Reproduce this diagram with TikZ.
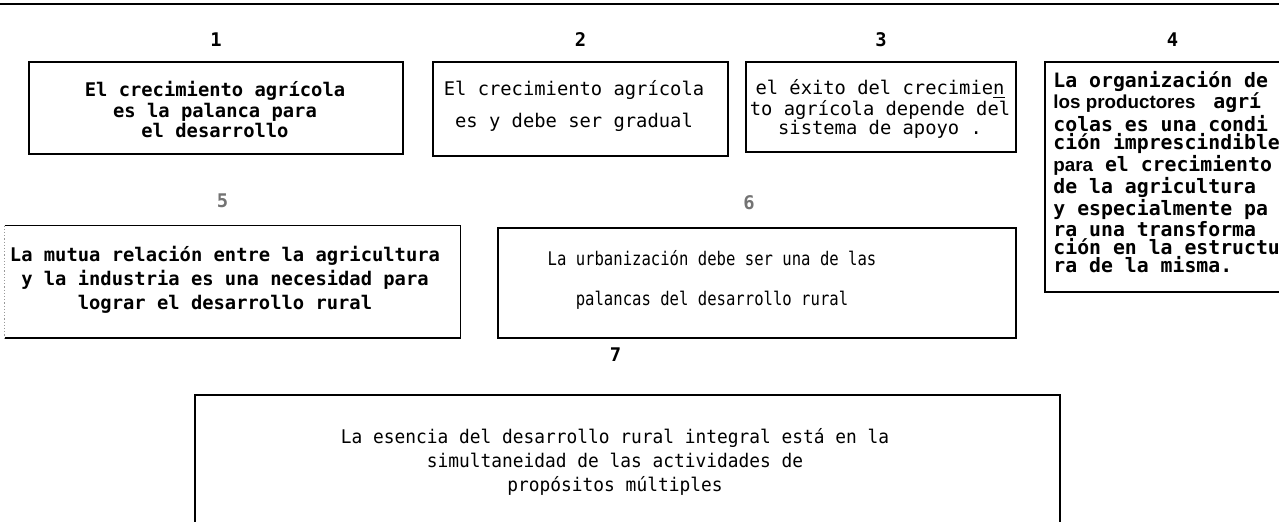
\documentclass[tikz,border=0pt]{standalone}
\usepackage{fontspec}
\usetikzlibrary{positioning}
\newfontfamily\printfont{DejaVu Sans Mono}
\newfontfamily\narrowprint[FakeStretch=0.83]{DejaVu Sans Mono}
\newfontfamily\slimprint[FakeStretch=0.95]{DejaVu Sans Mono}
\newfontfamily\propfont{Liberation Sans}
\tikzset{%
	frame/.style={
		draw,
		line width=0.9pt,
		inner sep=0pt
	},
	box text/.style={
		align=center,
		inner sep=0pt,
		font=\printfont\fontsize{9.4}{#1}\selectfont
	},
	heavy text/.style={
		align=center,
		inner sep=0pt,
		font=\printfont\bfseries\fontsize{9.4}{#1}\selectfont
	},
	narrow text/.style={
		align=center,
		inner sep=0pt,
		font=\narrowprint\fontsize{9.4}{#1}\selectfont
	},
	slim text/.style={
		align=center,
		inner sep=0pt,
		font=\slimprint\fontsize{9.4}{#1}\selectfont
	},
	box number/.style={
		inner sep=0pt,
		font=\printfont\bfseries\fontsize{9.4}{10}\selectfont
	},
}

\begin{document}
\begin{tikzpicture}[x=0.5pt, y=-0.5pt]
			\useasboundingbox (0,0) rectangle (1279,522);
			% rule across the top of the page
			\draw[line width=1.2pt] (0,4) -- (1279,4);
			
			% first row of boxes
			\node[frame, minimum width=187pt, minimum height=46pt] (b1) at (216,108) {};
			\node[frame, minimum width=147.5pt, minimum height=47pt] (b2) at (580.5,109) {};
			\node[frame, minimum width=135pt, minimum height=45pt] (b3) at (881,107) {};
			\node[frame, minimum width=127.5pt, minimum height=115pt] (b4) at (1172.5,177) {};
			
			% second row, box 5 has a faint left side
			\node[minimum width=227.5pt, minimum height=56pt, inner sep=0pt] (b5) at (232.5,282) {};
			\draw[line width=0.9pt] (b5.north west) -- (b5.north east) -- (b5.south east) -- (b5.south west);
			\draw[line width=0.6pt, black!40, densely dotted] (b5.north west) -- (b5.south west);
			\node[frame, minimum width=259pt, minimum height=55pt] (b6) at (757,283) {};
			
			% last box runs off the bottom of the page
			\node[frame, minimum width=432.5pt, minimum height=72.5pt] (b7) at (627.5,467.5) {};
			
			% numbers over the boxes
			\node[box number, above=7pt of b1] (n1) {1};
			\node[box number, above=7pt of b2] (n2) {2};
			\node[box number, above=7pt of b3] (n3) {3};
			\node[box number, above=7pt of b4] (n4) {4};
			\node[box number, black!55, above=8.5pt of b5, xshift=-5pt] (n5) {5};
			\node[box number, black!55, above=8.5pt of b6, xshift=-4pt] (n6) {6};
			\node[box number, above=16pt of b7, xshift=-6pt] (n7) {7};
			
			% texts
			\node[heavy text=10.25] (t1) at (215,109.5) {El crecimiento agrícola\\es la palanca para\\el desarrollo};
			\node[box text=16] (t2) at (574,106) {El crecimiento agrícola\\es y debe ser gradual};
			\node[box text=9.5] (t3) at (880,109) {el éxito del crecimie\underline{n}\\to agrícola depende del\\sistema de apoyo .};
			\node[align=left, inner sep=0pt, anchor=west, font=\printfont\bfseries\fontsize{9.9}{9}\selectfont] (t4) at (1053,172) {La organización de\\
				\makebox[80pt][l]{\propfont\fontsize{9.4}{9}\selectfont los productores}agrí\\
				colas es una condi\\
				ción imprescindible\\
				{\propfont\fontsize{9.4}{9}\selectfont para} el crecimiento\\
				de la agricultura\\
				y especialmente pa\\
				ra una transforma\\
				ción en la estructu\\
				ra de la misma.};
			\node[heavy text=12] (t5) at (225,280) {La mutua relación entre la agricultura\\y la industria es una necesidad para\\lograr el desarrollo rural};
			\node[narrow text=20] (t6) at (712,280) {La urbanización debe ser una de las\\palancas del desarrollo rural};
			\node[slim text=12] (t7) at (615,462) {La esencia del desarrollo rural integral está en la\\simultaneidad de las actividades de\\propósitos múltiples};
		\end{tikzpicture}
\end{document}
